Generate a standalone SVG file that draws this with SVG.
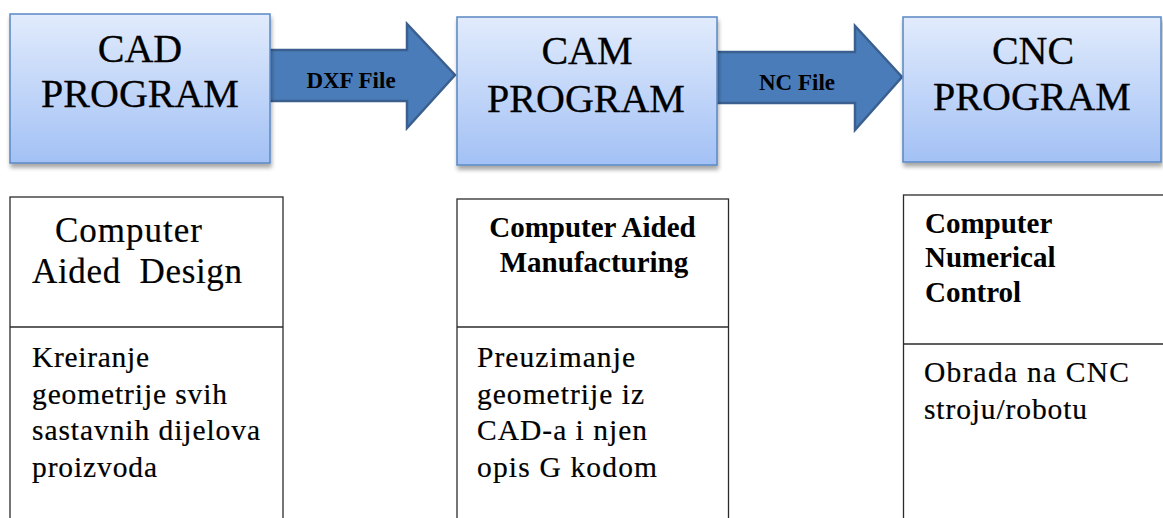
<svg xmlns="http://www.w3.org/2000/svg" width="1163" height="518" viewBox="0 0 1163 518">
<style>
text{font-family:"Liberation Serif","Times New Roman",serif;fill:#000}
.prog{fill:url(#g);stroke:#5a88c4;stroke-width:1.5;filter:url(#sh)}
.pt{font-size:40px;text-anchor:middle;stroke:#000;stroke-width:0.3}
.arr{fill:#4a7cb9;stroke:#3b6090;stroke-width:2.5;stroke-linejoin:miter}
.al{font-size:23px;font-weight:bold;text-anchor:middle}
.box{fill:#fff;stroke:#2b2b2b;stroke-width:1.3}
.hd{font-size:35px;stroke:#000;stroke-width:0.2}
.hb{font-size:29px;font-weight:bold}
.bd{font-size:29.5px;stroke:#000;stroke-width:0.2}
</style>
<defs>
<linearGradient id="g" x1="0" y1="0" x2="0" y2="1">
<stop offset="0" stop-color="#e1ebfc"/>
<stop offset="1" stop-color="#a3c1f5"/>
</linearGradient>
<filter id="sh" x="-10%" y="-10%" width="125%" height="130%">
<feGaussianBlur in="SourceAlpha" stdDeviation="2"/>
<feOffset dx="1" dy="4" result="b"/>
<feComponentTransfer><feFuncA type="linear" slope="0.35"/></feComponentTransfer>
<feMerge><feMergeNode/><feMergeNode in="SourceGraphic"/></feMerge>
</filter>
</defs>
<rect width="1163" height="518" fill="#fff"/>
<g id="connectors">
<polygon class="arr" points="268,50 407,50 407,24 455,75 407,128 407,101 268,101"/>
<text class="al" x="351" y="88">DXF File</text>
<polygon class="arr" points="715,52 855,52 855,26 902,77 855,130 855,103 715,103"/>
<text class="al" x="797" y="90">NC File</text>
</g>
<g id="cad">
<rect class="prog" x="10" y="14" width="260" height="149"/>
<text class="pt" x="140" y="62">CAD</text>
<text class="pt" x="140" y="107">PROGRAM</text>
</g>
<g id="cam">
<rect class="prog" x="457" y="17" width="260" height="148"/>
<text class="pt" x="587" y="64">CAM</text>
<text class="pt" x="586" y="112">PROGRAM</text>
</g>
<g id="cnc">
<rect class="prog" x="903" y="17" width="258" height="145"/>
<text class="pt" x="1033" y="64">CNC</text>
<text class="pt" x="1032" y="110">PROGRAM</text>
</g>
<g id="cad-desc">
<rect class="box" x="10" y="197" width="273" height="340"/>
<line class="box" x1="10" y1="327" x2="283" y2="327"/>
<text class="hd" x="55" y="242" textLength="147" lengthAdjust="spacing">Computer</text>
<text class="hd" x="32" y="283" textLength="210" lengthAdjust="spacing" xml:space="preserve">Aided  Design</text>
<text class="bd" x="32" y="367" textLength="117" lengthAdjust="spacing">Kreiranje</text>
<text class="bd" x="32" y="403.5" textLength="195" lengthAdjust="spacing">geometrije svih</text>
<text class="bd" x="32" y="440" textLength="228" lengthAdjust="spacing">sastavnih dijelova</text>
<text class="bd" x="32" y="476.5" textLength="125" lengthAdjust="spacing">proizvoda</text>
</g>
<g id="cam-desc">
<rect class="box" x="457" y="199" width="271.5" height="340"/>
<line class="box" x1="457" y1="327" x2="728.5" y2="327"/>
<text class="hb" x="592.5" y="237" text-anchor="middle">Computer Aided</text>
<text class="hb" x="594" y="272" text-anchor="middle">Manufacturing</text>
<text class="bd" x="477" y="367" textLength="158" lengthAdjust="spacing">Preuzimanje</text>
<text class="bd" x="477" y="403.5" textLength="167" lengthAdjust="spacing">geometrije iz</text>
<text class="bd" x="477" y="440" textLength="170" lengthAdjust="spacing">CAD-a i njen</text>
<text class="bd" x="477" y="476.5" textLength="180" lengthAdjust="spacing">opis G kodom</text>
</g>
<g id="cnc-desc">
<rect class="box" x="903.5" y="195" width="280" height="340"/>
<line class="box" x1="903.5" y1="344" x2="1163" y2="344"/>
<text class="hb" x="925" y="233">Computer</text>
<text class="hb" x="925" y="267">Numerical</text>
<text class="hb" x="925" y="301.5">Control</text>
<text class="bd" x="924" y="382" textLength="205" lengthAdjust="spacing">Obrada na CNC</text>
<text class="bd" x="924" y="418.5" textLength="163" lengthAdjust="spacing">stroju/robotu</text>
</g>
</svg>
